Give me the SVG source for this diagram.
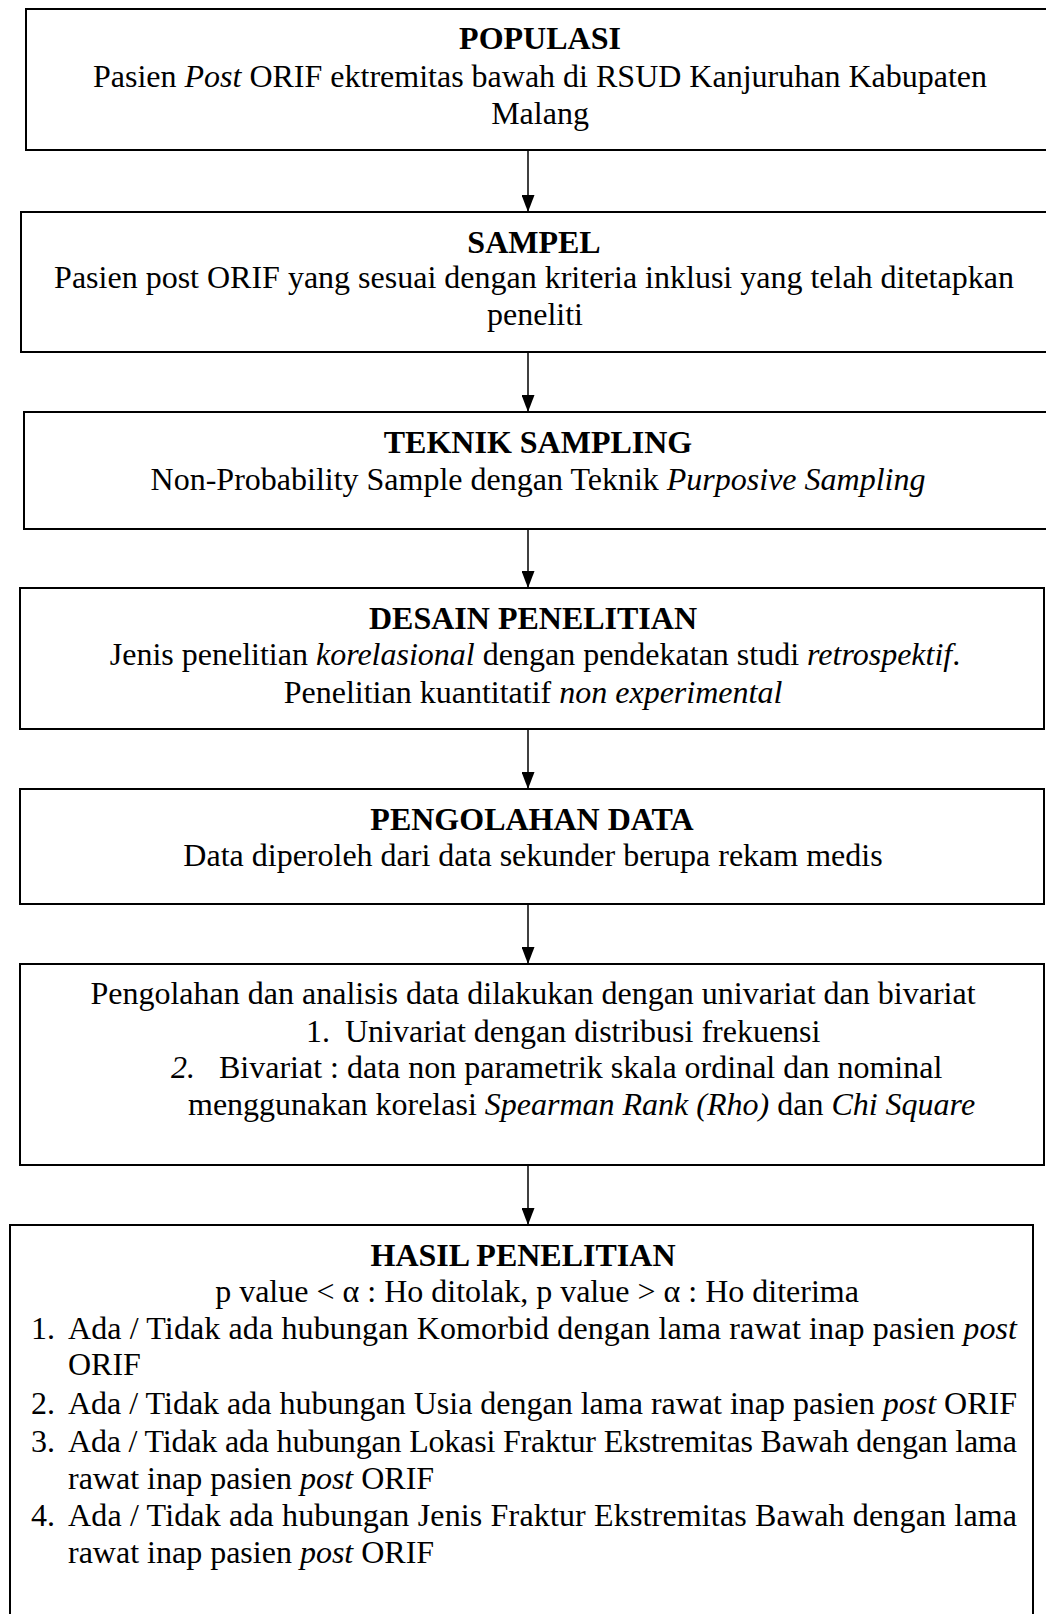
<svg xmlns="http://www.w3.org/2000/svg" width="1046" height="1614" viewBox="0 0 1046 1614">
<style>
.box{fill:#fff;stroke:#000;stroke-width:2}
.t{font-family:"Liberation Serif","Times New Roman",serif;font-size:32px;fill:#000}
.c{text-anchor:middle}
.b{font-weight:bold}
.i{font-style:italic}
.con{stroke:#000;stroke-width:1.5;fill:none}
</style>
<defs>
<marker id="ah" markerUnits="userSpaceOnUse" markerWidth="17" markerHeight="13" refX="17" refY="6.5" orient="auto" viewBox="0 0 17 13">
<path d="M0,0 L17,6.5 L0,13 Z" fill="#000"/>
</marker>
</defs>
<rect width="1046" height="1614" fill="#fff"/>
<g id="connectors">
<line class="con" x1="528" y1="150" x2="528" y2="212" marker-end="url(#ah)"/>
<line class="con" x1="528" y1="352" x2="528" y2="412" marker-end="url(#ah)"/>
<line class="con" x1="528" y1="529" x2="528" y2="588" marker-end="url(#ah)"/>
<line class="con" x1="528" y1="729" x2="528" y2="789" marker-end="url(#ah)"/>
<line class="con" x1="528" y1="904" x2="528" y2="964" marker-end="url(#ah)"/>
<line class="con" x1="528" y1="1165" x2="528" y2="1225" marker-end="url(#ah)"/>
</g>
<g id="populasi">
<rect class="box" x="26" y="9" width="1030" height="141"/>
<text class="t c b" x="540" y="49">POPULASI</text>
<text class="t c" x="540" y="87">Pasien <tspan class="i">Post</tspan> ORIF ektremitas bawah di RSUD Kanjuruhan Kabupaten</text>
<text class="t c" x="540" y="124">Malang</text>
</g>
<g id="sampel">
<rect class="box" x="21" y="212" width="1035" height="140"/>
<text class="t c b" x="534" y="253">SAMPEL</text>
<text class="t c" x="534" y="288">Pasien post ORIF yang sesuai dengan kriteria inklusi yang telah ditetapkan</text>
<text class="t c" x="535" y="325">peneliti</text>
</g>
<g id="teknik-sampling">
<rect class="box" x="24" y="412" width="1032" height="117"/>
<text class="t c b" x="538" y="453">TEKNIK SAMPLING</text>
<text class="t c" x="538" y="490">Non-Probability Sample dengan Teknik <tspan class="i">Purposive Sampling</tspan></text>
</g>
<g id="desain-penelitian">
<rect class="box" x="20" y="588" width="1024" height="141"/>
<text class="t c b" x="533" y="629">DESAIN PENELITIAN</text>
<text class="t c" x="535" y="665">Jenis penelitian <tspan class="i">korelasional</tspan> dengan pendekatan studi <tspan class="i">retrospektif</tspan>.</text>
<text class="t c" x="533" y="703">Penelitian kuantitatif <tspan class="i">non experimental</tspan></text>
</g>
<g id="pengolahan-data">
<rect class="box" x="20" y="789" width="1024" height="115"/>
<text class="t c b" x="532" y="830">PENGOLAHAN DATA</text>
<text class="t c" x="533" y="866">Data diperoleh dari data sekunder berupa rekam medis</text>
</g>
<g id="analisis">
<rect class="box" x="20" y="964" width="1024" height="201"/>
<text class="t c" x="533" y="1004">Pengolahan dan analisis data dilakukan dengan univariat dan bivariat</text>
<text class="t" x="306" y="1042">1.</text>
<text class="t" x="345" y="1042">Univariat dengan distribusi frekuensi</text>
<text class="t i" x="171" y="1078">2.</text>
<text class="t" x="219" y="1078">Bivariat : data non parametrik skala ordinal dan nominal</text>
<text class="t" x="188" y="1115">menggunakan korelasi <tspan class="i">Spearman Rank (Rho)</tspan> dan <tspan class="i">Chi Square</tspan></text>
</g>
<g id="hasil-penelitian">
<rect class="box" x="10" y="1225" width="1023" height="400"/>
<text class="t c b" x="523" y="1266">HASIL PENELITIAN</text>
<text class="t c" x="537" y="1302">p value &lt; α : Ho ditolak, p value &gt; α : Ho diterima</text>
<text class="t" x="31" y="1339">1.</text>
<text class="t" x="68" y="1339" textLength="949" lengthAdjust="spacing">Ada / Tidak ada hubungan Komorbid dengan lama rawat inap pasien <tspan class="i">post</tspan></text>
<text class="t" x="68" y="1375">ORIF</text>
<text class="t" x="31" y="1414">2.</text>
<text class="t" x="68" y="1414" textLength="949" lengthAdjust="spacing">Ada / Tidak ada hubungan Usia dengan lama rawat inap pasien <tspan class="i">post</tspan> ORIF</text>
<text class="t" x="31" y="1452">3.</text>
<text class="t" x="68" y="1452" textLength="949" lengthAdjust="spacing">Ada / Tidak ada hubungan Lokasi Fraktur Ekstremitas Bawah dengan lama</text>
<text class="t" x="68" y="1489">rawat inap pasien <tspan class="i">post</tspan> ORIF</text>
<text class="t" x="31" y="1526">4.</text>
<text class="t" x="68" y="1526" textLength="949" lengthAdjust="spacing">Ada / Tidak ada hubungan Jenis Fraktur Ekstremitas Bawah dengan lama</text>
<text class="t" x="68" y="1563">rawat inap pasien <tspan class="i">post</tspan> ORIF</text>
</g>
</svg>
